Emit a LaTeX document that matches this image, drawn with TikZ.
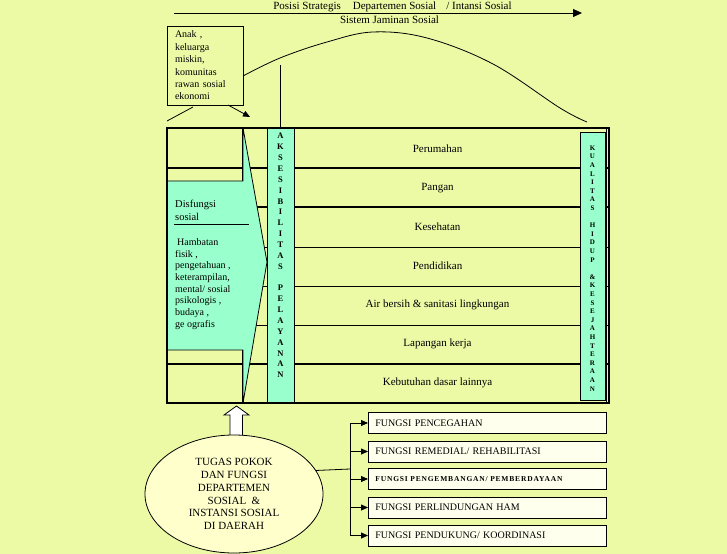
\documentclass[tikz,border=0pt]{standalone}
\usepackage{fontspec}
\setmainfont{Liberation Serif}
\usetikzlibrary{arrows.meta,shapes.geometric,calc}
\definecolor{bgy}{RGB}{236,250,166}
\definecolor{cy}{RGB}{153,255,204}
\definecolor{elly}{RGB}{255,255,204}
\definecolor{fboxc}{RGB}{255,255,238}
\tikzset{
  thickln/.style={line width=1.6bp},
  thinln/.style={line width=0.8bp},
  rowlabel/.style={font=\fontsize{11bp}{12bp}\selectfont, inner sep=0},
  leftlist/.style={anchor=west, align=left, inner sep=0},
  vletters/.style={font=\fontsize{8.5bp}{10.86bp}\selectfont\bfseries, align=center, inner sep=0},
  fnbox/.style={draw, line width=0.8bp, fill=fboxc, anchor=west, minimum width=238bp,
    minimum height=21bp, text width=224bp, inner xsep=7bp, align=left,
    font=\fontsize{10bp}{11bp}\selectfont},
  tri/.style={-{Triangle[length=7bp,width=6bp]}},
}
\begin{document}
\begin{tikzpicture}[x=1bp,y=-1bp]
\fill[bgy] (0,0) rectangle (727,554);
\useasboundingbox (0,0) rectangle (727,554);

% top axis
\coordinate (ta1) at (174,13);
\coordinate (ta2) at (582,13);
\draw[thinln, -{Triangle[length=9bp,width=8bp]}] (ta1) -- (ta2);
\node[rowlabel] (toptext) at (392.5,6.5) {Posisi Strategis\hspace{12bp}Departemen Sosial\hspace{10bp}/ Intansi Sosial};
\node[rowlabel] (sjs) at (389.5,19.5) {Sistem Jaminan Sosial};

% target group box
\node[draw, thinln, fill=bgy, minimum width=76bp, minimum height=79bp, text width=60bp,
  inner xsep=8bp, align=left, font=\fontsize{10bp}{12.4bp}\selectfont] (anak) at (205,65.5)
  {Anak ,\\keluarga\\miskin,\\komunitas\\rawan sosial\\ekonomi};

% curve
\draw[thinln] plot[smooth, tension=0.6] coordinates {(243,76) (280,58) (327,42) (373,32) (427,38) (493,64) (560,108) (587,122)};

\draw[thinln] (193,107) -- (167,121);
\draw[thinln, tri] (228,105) -- (250,117);

% grid lines
\foreach \yy in {168,207,364} \draw[thickln] (167,\yy) -- (609,\yy);
\foreach \yy in {247,286,325} \draw[thinln] (167,\yy) -- (609,\yy);
\draw[thickln] (243,128) -- (243,403);

% big arrow
\draw[thinln, fill=cy] (167,181) -- (243,181) -- (243,128) -- (267,262) -- (243,403) -- (243,350) -- (167,350) -- cycle;
\node[leftlist, font=\fontsize{10.5bp}{13bp}\selectfont] (disf) at (175,210.5) {Disfungsi\\sosial};
\draw[thinln] (174,224) -- (249,224);
\node[leftlist, font=\fontsize{10bp}{11.7bp}\selectfont] (hamb) at (175,284)
  {\hspace*{2bp}Hambatan\\fisik ,\\pengetahuan ,\\keterampilan,\\mental/ sosial\\psikologis ,\\budaya ,\\ge ografis};

% accessibility column
\node[draw, thinln, fill=cy, minimum width=27bp, minimum height=275bp, inner sep=0] (aksbox) at (280.5,265.5) {};
\node[vletters] (akstext) at (280.5,255.5) {A\\K\\S\\E\\S\\I\\B\\I\\L\\I\\T\\A\\S\\\mbox{}\\P\\E\\L\\A\\Y\\A\\N\\A\\N};
\draw[thinln] (aksbox.north) -- ++(0,-63);

% quality of life column
\node[draw, thinln, fill=cy, minimum width=25bp, minimum height=268bp, inner sep=0] (kuabox) at (592.5,266) {};
\node[vletters, font=\fontsize{7bp}{8.6bp}\selectfont\bfseries] (kuatext) at (592.5,268.5)
  {K\\U\\A\\L\\I\\T\\A\\S\\\mbox{}\\H\\I\\D\\U\\P\\\mbox{}\\\&\\K\\E\\S\\E\\J\\A\\H\\T\\E\\R\\A\\A\\N};

% row labels
\foreach \t/\yy [count=\i] in {Perumahan/149, Pangan/188, Kesehatan/227, Pendidikan/266,
  Air bersih \& sanitasi lingkungan/305, Lapangan kerja/344, Kebutuhan dasar lainnya/383}
  \node[rowlabel] (row\i) at (437.5,\yy) {\t};

% frame
\draw[thickln] (167,128) rectangle (609,403);
\draw[thinln] (606.5,129) -- (606.5,402);

% up arrow and ellipse
\draw[thinln, fill=white] (230,445) -- (230,415) -- (224,415) -- (236.5,406) -- (249,415) -- (242.5,415) -- (242.5,445);
\node[ellipse, draw, thinln, fill=elly, minimum width=178bp, minimum height=118bp, inner sep=0,
  align=center, font=\fontsize{11bp}{12.8bp}\selectfont] (ell) at (234,494)
  {TUGAS POKOK\\DAN FUNGSI\\DEPARTEMEN\\SOSIAL \ \&\\INSTANSI SOSIAL\\DI DAERAH};

% function boxes
\node[fnbox] (f1) at (368,423) {FUNGSI PENCEGAHAN};
\node[fnbox] (f2) at (368,451.5) {FUNGSI REMEDIAL/ REHABILITASI};
\node[fnbox, font=\fontsize{7.5bp}{9bp}\selectfont\bfseries\addfontfeature{LetterSpace=11}] (f3) at (368,479) {FUNGSI PENGEMBANGAN/ PEMBERDAYAAN};
\node[fnbox] (f4) at (368,507.5) {FUNGSI PERLINDUNGAN HAM};
\node[fnbox] (f5) at (368,535.5) {FUNGSI PENDUKUNG/ KOORDINASI};

\coordinate (jn) at (350,469);
\draw[thinln] (ell.16) -- (jn);
\draw[thinln] (jn |- f1.west) -- (jn |- f5.west);
\foreach \f in {f1,f2,f3,f4,f5} \draw[thinln, tri] (jn |- \f.west) -- (\f.west);
\end{tikzpicture}
\end{document}
